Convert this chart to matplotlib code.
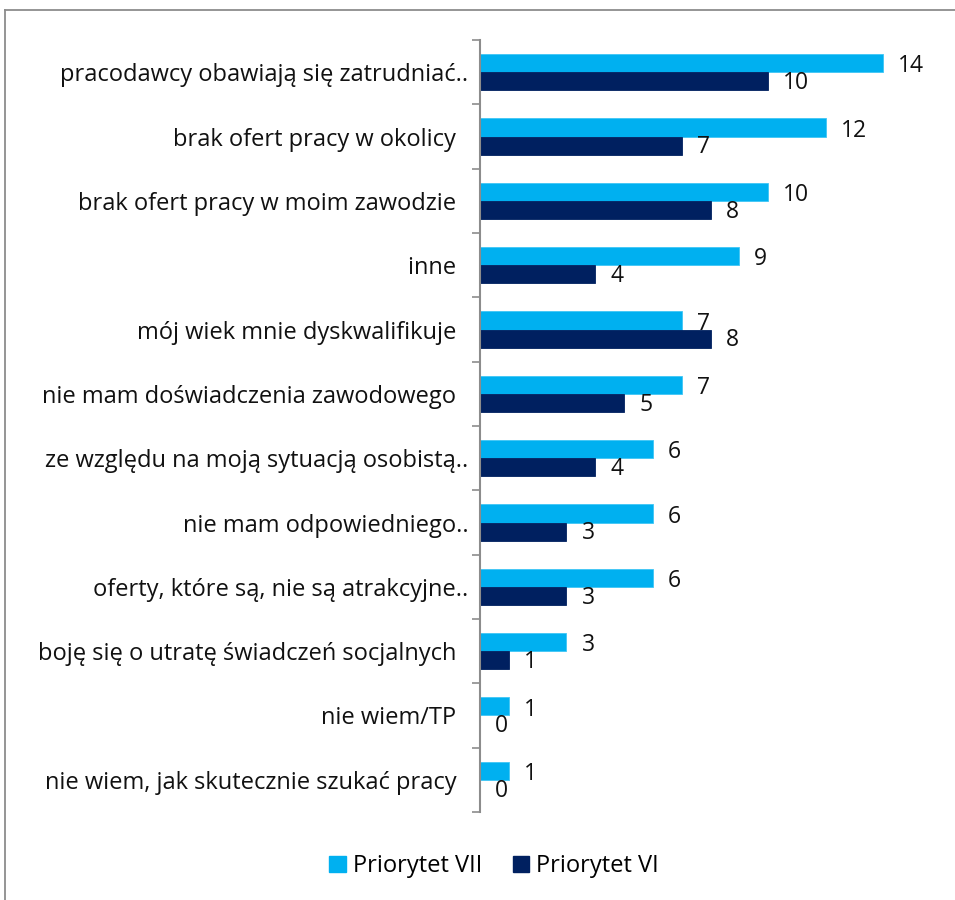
import matplotlib
matplotlib.use("Agg")
import matplotlib.pyplot as plt
from matplotlib.lines import Line2D
from matplotlib.patches import Patch
import numpy as np

categories = [
    "pracodawcy obawiają się zatrudniać..",
    "brak ofert pracy w okolicy\u2002",
    "brak ofert pracy w moim zawodzie\u2002",
    "inne\u2002",
    "mój wiek mnie dyskwalifikuje\u2002",
    "nie mam doświadczenia zawodowego\u2002",
    "ze względu na moją sytuacją osobistą..",
    "nie mam odpowiedniego..",
    "oferty, które są, nie są atrakcyjne..",
    "boję się o utratę świadczeń socjalnych\u2002",
    "nie wiem/TP\u2002",
    "nie wiem, jak skutecznie szukać pracy\u2002",
]
priorytet_vii = [14, 12, 10, 9, 7, 7, 6, 6, 6, 3, 1, 1]
priorytet_vi = [10, 7, 8, 4, 8, 5, 4, 3, 3, 1, 0, 0]
series_names = ["Priorytet VII", "Priorytet VI"]
colors = ["#00B0F0", "#002060"]

plt.rcParams["font.family"] = ["Open Sans", "DejaVu Sans"]

fig = plt.figure(figsize=(9.55, 9.0), dpi=100)
W, H = 955, 900
ax = fig.add_axes([480 / W, 1 - 812 / H, (941 - 480) / W, (812 - 40) / H])

n = len(categories)
y = np.arange(n)
bh = 0.28
ax.barh(y - bh / 2, priorytet_vii, height=bh, color=colors[0], edgecolor="#3FC6F5", linewidth=0.6)
ax.barh(y + bh / 2, priorytet_vi, height=bh, color=colors[1], edgecolor=colors[1], linewidth=0.6)

ax.set_xlim(0, 16)
ax.set_ylim(n - 0.5, -0.5)

px = 16 / (941 - 480)
for i in range(n):
    ax.text(priorytet_vii[i] + 15 * px, y[i] - bh / 2 + 0.05, str(priorytet_vii[i]),
            va="center", ha="left", fontsize=16.5, color="#111111")
    ax.text(priorytet_vi[i] + 15 * px, y[i] + bh / 2 + 0.03, str(priorytet_vi[i]),
            va="center", ha="left", fontsize=16.5, color="#111111")

ax.set_yticks(y)
ax.set_yticklabels(categories, fontsize=17, color="#111111")
ax.tick_params(axis="y", which="major", length=0, pad=8.5)
ax.set_yticks(np.arange(-0.5, n, 1.0), minor=True)
ax.tick_params(axis="y", which="minor", length=6, width=1.2, color="#8c8c8c")
ax.set_xticks([])

for s in ["top", "right", "bottom"]:
    ax.spines[s].set_visible(False)
ax.spines["left"].set_color("#8c8c8c")
ax.spines["left"].set_linewidth(1.5)

handles = [Patch(facecolor=c, edgecolor=c) for c in colors]
fig.legend(handles, series_names, loc="center", bbox_to_anchor=(494 / W, 1 - 866 / H),
           ncol=2, frameon=False, fontsize=17, handlelength=0.68, handleheight=0.64,
           handletextpad=0.3, columnspacing=1.3, borderpad=0)

# outer frame
fig.add_artist(Line2D([5 / W, 5 / W], [0, 1 - 10 / H], color="#8c8c8c", lw=1.3))
fig.add_artist(Line2D([5 / W, 1], [1 - 10 / H, 1 - 10 / H], color="#8c8c8c", lw=1.3))

fig.savefig("out.png", dpi=100, facecolor="white")
